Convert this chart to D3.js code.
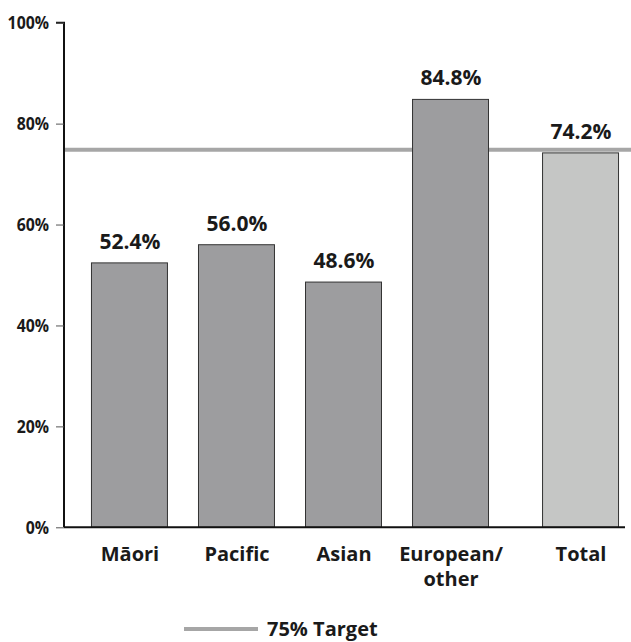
<!DOCTYPE html>
<html>
<head>
<meta charset="utf-8">
<script src="https://cdn.jsdelivr.net/npm/d3@7"></script>
<style>
  body { margin: 0; background: #fff; }
  svg text { fill: #1a1a1a; }
</style>
</head>
<body>
<svg width="631" height="642"></svg>
<script>
//	chart data
var categories = ["Māori", "Pacific", "Asian", "European/\nother", "Total"];
var values = [52.4, 56.0, 48.6, 84.8, 74.2];
var target = 75;
var yTicks = [0, 20, 40, 60, 80, 100];
var legendLabel = "75% Target";

var svg = d3.select("svg"),
        width = +svg.attr("width"),
        height = +svg.attr("height");

var margin = {top: 22.7, right: 6, bottom: 114.7, left: 64};
var totalGap = 23;	// extra space before the Total bar

//	scales
var y = d3.scaleLinear()
        .domain([0, 100])
        .range([height - margin.bottom, margin.top]);

var x = d3.scaleBand()
        .domain(categories)
        .range([margin.left, 622])
        .paddingInner(0.29)
        .paddingOuter(0.252);

function xPos(d) {
    return x(d) + (d === "Total" ? totalGap : 0);
}

var font = "'Open Sans', 'DejaVu Sans', sans-serif";

//	target line (behind bars)
svg.append("line")
        .attr("x1", margin.left)
        .attr("x2", width)
        .attr("y1", y(target) + 1)
        .attr("y2", y(target) + 1)
        .attr("stroke", "#a6a6a6")
        .attr("stroke-width", 4);

//	bars
svg.append("g").selectAll("rect")
        .data(values)
        .enter().append("rect")
        .attr("x", function (d, i) { return xPos(categories[i]) + 0.5; })
        .attr("y", function (d) { return y(d); })
        .attr("width", x.bandwidth())
        .attr("height", function (d) { return y(0) - y(d); })
        .attr("fill", function (d, i) { return categories[i] === "Total" ? "#c5c6c5" : "#9d9d9f"; })
        .attr("stroke", "#333")
        .attr("stroke-width", 1);

//	value labels
svg.append("g").selectAll("text")
        .data(values)
        .enter().append("text")
        .attr("x", function (d, i) { return xPos(categories[i]) + x.bandwidth() / 2 + 1; })
        .attr("y", function (d) { return y(d) - 14; })
        .attr("text-anchor", "middle")
        .style("font-family", font)
        .style("font-weight", "bold")
        .style("font-size", "21px")
        .text(function (d) { return d.toFixed(1) + "%"; });

//	y axis
var yAxis = svg.append("g")
        .attr("transform", "translate(" + margin.left + ",0)")
        .call(d3.axisLeft(y).tickValues(yTicks).tickSize(8).tickPadding(7)
                .tickFormat(function (d) { return d + "%"; }));
yAxis.select(".domain").attr("stroke", "#111").attr("stroke-width", 2)
        .attr("d", "M-8," + y(100) + "H0V" + y(0));
yAxis.selectAll(".tick line").attr("stroke", "#555").attr("stroke-width", 1);
//	condensed look: squeeze the labels horizontally about their right edge
yAxis.selectAll(".tick text")
        .attr("x", 0)
        .attr("transform", "translate(-15,0) scale(0.88,1)")
        .style("font-family", font)
        .style("font-weight", "bold")
        .style("font-size", "18px")
        .attr("fill", "#1a1a1a");

//	x baseline
svg.append("line")
        .attr("x1", margin.left)
        .attr("x2", width - margin.right)
        .attr("y1", y(0))
        .attr("y2", y(0))
        .attr("stroke", "#111")
        .attr("stroke-width", 2);

//	category labels
var catText = svg.append("g").selectAll("text")
        .data(categories)
        .enter().append("text")
        .attr("x", function (d) { return xPos(d) + x.bandwidth() / 2 + 1; })
        .attr("y", y(0) + 34)
        .attr("text-anchor", "middle")
        .style("font-family", font)
        .style("font-weight", "bold")
        .style("font-size", "20px");
catText.each(function (d) {
    var lines = d.split("\n");
    var t = d3.select(this);
    lines.forEach(function (l, i) {
        t.append("tspan")
                .attr("x", t.attr("x"))
                .attr("dy", i === 0 ? 0 : 25)
                .text(l);
    });
});

//	legend
var legend = svg.append("g").attr("transform", "translate(184," + (height - 13) + ")");
legend.append("line")
        .attr("x1", 0).attr("x2", 74)
        .attr("stroke", "#a6a6a6")
        .attr("stroke-width", 4);
legend.append("text")
        .attr("x", 83)
        .attr("y", 7)
        .style("font-family", font)
        .style("font-weight", "bold")
        .style("font-size", "20px")
        .text(legendLabel);
</script>
</body>
</html>
